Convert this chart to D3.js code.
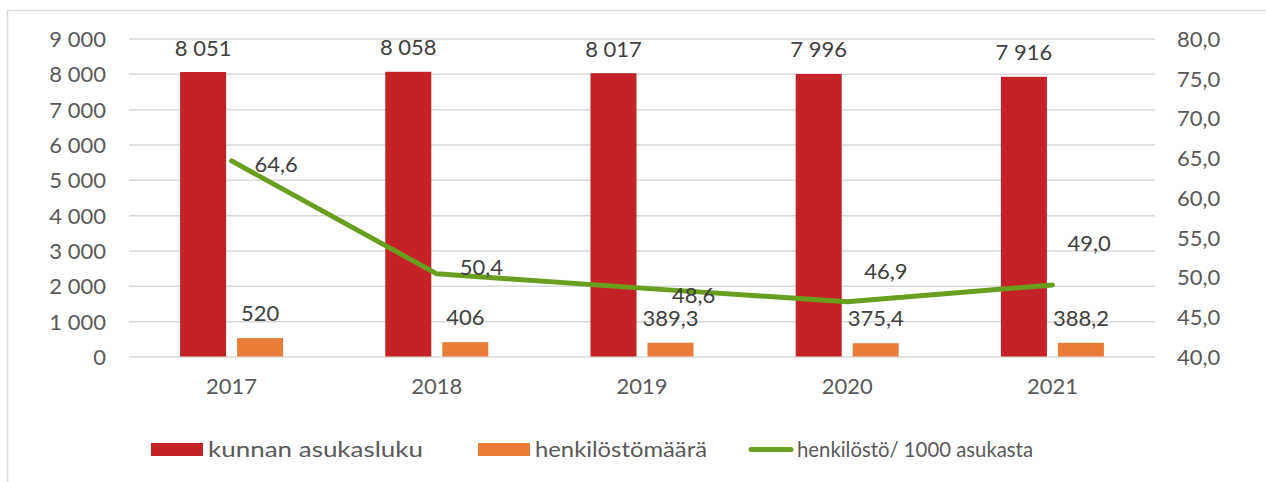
<!DOCTYPE html>
<html>
<head>
<meta charset="utf-8">
<script src="https://cdn.jsdelivr.net/npm/d3@7"></script>
<style>
  body { margin: 0; background: #fff; }
  text { font-family: "Century Gothic", Lato, "DejaVu Sans", sans-serif; }
</style>
</head>
<body>
<script>
const years = ["2017", "2018", "2019", "2020", "2021"];
const population = [8051, 8058, 8017, 7996, 7916];
const staff = [520, 406, 389.3, 375.4, 388.2];
const staffPer1000 = [64.6, 50.4, 48.6, 46.9, 49.0];
const leftTicks = [0, 1000, 2000, 3000, 4000, 5000, 6000, 7000, 8000, 9000];
const rightTicks = [40, 45, 50, 55, 60, 65, 70, 75, 80];
const seriesNames = ["kunnan asukasluku", "henkilöstömäärä", "henkilöstö/ 1000 asukasta"];

// hand-placed line labels in the original (offset from the point)
const lineLabelNudge = [[23, 11], [23, 1], [30, 15], [17, -23], [15, -34]];

const width = 1266, height = 482;
const margin = {top: 38.5, right: 111, bottom: 125.5, left: 129};
const innerW = width - margin.left - margin.right,
  innerH = height - margin.top - margin.bottom;

const colors = {red: "#c42227", orange: "#e97d38", green: "#6a9e1f", grid: "#d9d9d9", text: "#595959", label: "#404040"};

const svg = d3.select("body").append("svg")
  .attr("width", width)
  .attr("height", height);

// chart frame (only left/top visible in the crop)
svg.append("rect")
  .attr("x", 7.5).attr("y", 10.5)
  .attr("width", 1400).attr("height", 600)
  .attr("fill", "none").attr("stroke", colors.grid).attr("stroke-width", 1.5);

const g = svg.append("g").attr("transform", `translate(${margin.left},${margin.top})`);

const x = d3.scaleBand().domain(years).range([0, innerW]);
const y = d3.scaleLinear().domain([0, 9000]).range([innerH, 0]);
const y2 = d3.scaleLinear().domain([40, 80]).range([innerH, 0]);

const fmtInt = v => d3.format(",")(v).replace(/,/g, " ");
const fmtDec = v => Number.isInteger(v) ? String(v) : d3.format(".1f")(v).replace(".", ",");
const fmtOne = v => d3.format(".1f")(v).replace(".", ",");

// gridlines + left axis
const yAxis = g.append("g")
  .call(d3.axisLeft(y).tickValues(leftTicks).tickSize(-innerW).tickPadding(23).tickFormat(fmtInt));
yAxis.select(".domain").remove();
yAxis.selectAll("line").attr("stroke", colors.grid).attr("stroke-width", 1.5);
yAxis.selectAll("text").attr("fill", colors.text).attr("font-size", 22).attr("dy", "0.36em");

const y2Axis = g.append("g")
  .attr("transform", `translate(${innerW},0)`)
  .call(d3.axisRight(y2).tickValues(rightTicks).tickSize(0).tickPadding(22).tickFormat(fmtOne));
y2Axis.select(".domain").remove();
y2Axis.selectAll("text").attr("fill", colors.text).attr("font-size", 22).attr("dy", "0.36em");

const xAxis = g.append("g")
  .attr("transform", `translate(0,${innerH})`)
  .call(d3.axisBottom(x).tickSize(0).tickPadding(22));
xAxis.select(".domain").remove();
xAxis.selectAll("text").attr("fill", colors.text).attr("font-size", 22);

const barW = 46, gap = 5.5;

g.selectAll(".pop")
  .data(years)
  .enter().append("rect")
  .attr("x", d => x(d) + x.bandwidth() / 2 - gap - barW)
  .attr("y", (d, i) => y(population[i]))
  .attr("width", barW)
  .attr("height", (d, i) => innerH - y(population[i]))
  .attr("fill", colors.red);

g.selectAll(".staff")
  .data(years)
  .enter().append("rect")
  .attr("x", d => x(d) + x.bandwidth() / 2 + gap)
  .attr("y", (d, i) => y(staff[i]))
  .attr("width", barW)
  .attr("height", (d, i) => innerH - y(staff[i]))
  .attr("fill", colors.orange);

g.selectAll(".popLabel")
  .data(years)
  .enter().append("text")
  .attr("x", d => x(d) + x.bandwidth() / 2 - gap - barW / 2)
  .attr("y", (d, i) => y(population[i]) - 16.5)
  .attr("text-anchor", "middle")
  .attr("font-size", 22)
  .attr("fill", colors.label)
  .text((d, i) => fmtInt(population[i]));

g.selectAll(".staffLabel")
  .data(years)
  .enter().append("text")
  .attr("x", d => x(d) + x.bandwidth() / 2 + gap + barW / 2)
  .attr("y", (d, i) => y(staff[i]) - 17)
  .attr("text-anchor", "middle")
  .attr("font-size", 22)
  .attr("fill", colors.label)
  .text((d, i) => fmtDec(staff[i]));

const line = d3.line()
  .x(d => x(d[0]) + x.bandwidth() / 2)
  .y(d => y2(d[1]));

g.append("path")
  .datum(years.map((d, i) => [d, staffPer1000[i]]))
  .attr("fill", "none")
  .attr("stroke", colors.green)
  .attr("stroke-width", 5)
  .attr("stroke-linecap", "round")
  .attr("stroke-linejoin", "round")
  .attr("d", line);

g.selectAll(".lineLabel")
  .data(years)
  .enter().append("text")
  .attr("x", (d, i) => x(d) + x.bandwidth() / 2 + lineLabelNudge[i][0])
  .attr("y", (d, i) => y2(staffPer1000[i]) + lineLabelNudge[i][1])
  .attr("font-size", 22)
  .attr("fill", colors.label)
  .text((d, i) => fmtOne(staffPer1000[i]));

// legend
const legend = svg.append("g").attr("transform", "translate(0,457)");
const legendX = [151, 478, 749];
const legendTextX = [208, 535, 797];
const legendTextW = [215, 172, 236]; // Century Gothic runs wider than Lato

legend.append("rect").attr("x", legendX[0]).attr("y", -14).attr("width", 52).attr("height", 13).attr("fill", colors.red);
legend.append("rect").attr("x", legendX[1]).attr("y", -14).attr("width", 52).attr("height", 13).attr("fill", colors.orange);
legend.append("line")
  .attr("x1", legendX[2] + 2).attr("x2", legendX[2] + 42)
  .attr("y1", -7.5).attr("y2", -7.5)
  .attr("stroke", colors.green).attr("stroke-width", 5).attr("stroke-linecap", "round");

legend.selectAll(".legText")
  .data(seriesNames)
  .enter().append("text")
  .attr("x", (d, i) => legendTextX[i])
  .attr("y", 0)
  .attr("font-size", 22)
  .attr("textLength", (d, i) => legendTextW[i])
  .attr("lengthAdjust", "spacingAndGlyphs")
  .attr("fill", colors.text)
  .text(d => d);
</script>
</body>
</html>
